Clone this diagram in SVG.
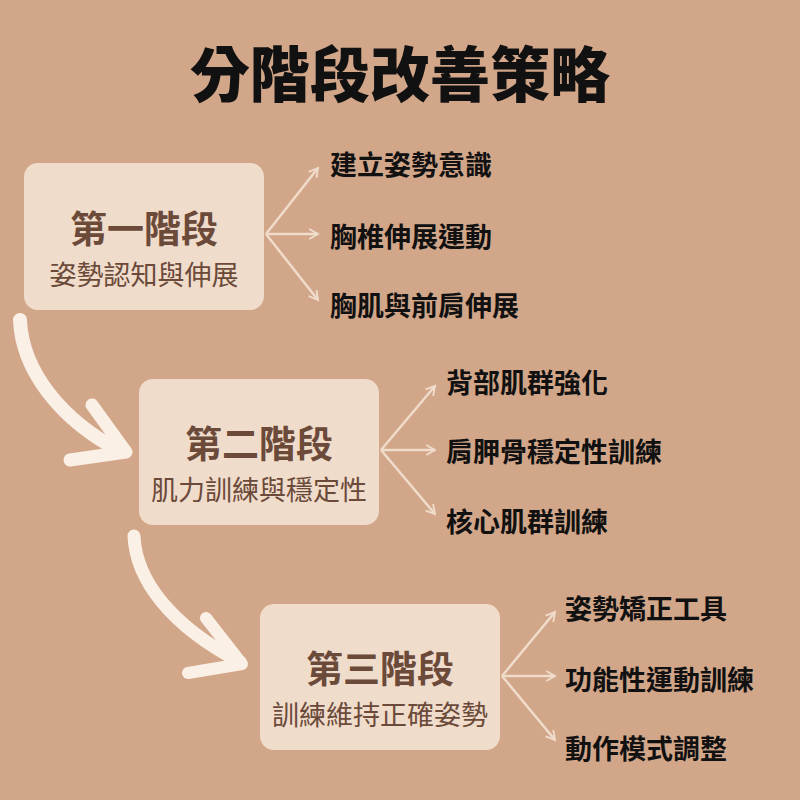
<svg xmlns="http://www.w3.org/2000/svg" width="800" height="800" viewBox="0 0 800 800">
<style>
.box{fill:#F0DCCB}
.st{font-family:"Noto Sans CJK TC","Noto Sans CJK SC",sans-serif;font-weight:700;font-size:37px;fill:#6B4A3A;text-anchor:middle}
.sub{font-family:"Noto Sans CJK TC","Noto Sans CJK SC",sans-serif;font-size:27px;fill:#6B4A3A;text-anchor:middle}
.lb{font-family:"Noto Sans CJK TC","Noto Sans CJK SC",sans-serif;font-weight:700;font-size:27px;fill:#111;dominant-baseline:central}
.con{stroke:#F0DCCB;stroke-width:2.5;fill:none;marker-end:url(#ah)}
.big{stroke:#FAF0E6;fill:none;stroke-linecap:round;stroke-linejoin:round}
</style>
<defs>
<marker id="ah" viewBox="0 0 10 10" refX="8" refY="5" markerWidth="5" markerHeight="5" orient="auto" markerUnits="strokeWidth"><path d="M1,1 L8,5 L1,9" fill="none" stroke="#F0DCCB" stroke-width="1.5"/></marker>
</defs>
<rect width="800" height="800" fill="#D2A689"/>
<text x="400" y="97" font-family="'Noto Sans CJK TC','Noto Sans CJK SC',sans-serif" font-weight="900" font-size="60" fill="#111" text-anchor="middle">分階段改善策略</text>
<g id="stage1"><rect class="box" x="24" y="163" width="240" height="147" rx="14"/><text class="st" x="144" y="243">第一階段</text><text class="sub" x="144" y="285">姿勢認知與伸展</text></g>
<g id="stage2"><rect class="box" x="139" y="379" width="240" height="146" rx="14"/><text class="st" x="259" y="458">第二階段</text><text class="sub" x="259" y="500">肌力訓練與穩定性</text></g>
<g id="stage3"><rect class="box" x="260" y="604" width="240" height="146" rx="14"/><text class="st" x="380" y="683">第三階段</text><text class="sub" x="380" y="725">訓練維持正確姿勢</text></g>
<g id="labels">
<text class="lb" x="330" y="163">建立姿勢意識</text><text class="lb" x="330" y="235">胸椎伸展運動</text><text class="lb" x="330" y="304">胸肌與前肩伸展</text>
<text class="lb" x="446" y="381">背部肌群強化</text><text class="lb" x="446" y="450">肩胛骨穩定性訓練</text><text class="lb" x="446" y="520">核心肌群訓練</text>
<text class="lb" x="565" y="607">姿勢矯正工具</text><text class="lb" x="565" y="678">功能性運動訓練</text><text class="lb" x="565" y="747">動作模式調整</text>
</g>
<g id="connectors">
<path class="con" d="M266,234 L318,168"/><path class="con" d="M266,234 L318,234"/><path class="con" d="M266,234 L318,300"/>
<path class="con" d="M381,450 L435,386"/><path class="con" d="M381,450 L435,450"/><path class="con" d="M381,450 L435,514"/>
<path class="con" d="M502,676 L555,612"/><path class="con" d="M502,676 L555,676"/><path class="con" d="M502,676 L555,740"/>
<path class="big" stroke-width="14" d="M20,320 C22,370 60,420 122,452"/>
<path class="big" stroke-width="13" d="M92,405 L126,452 L70,460"/>
<path class="big" stroke-width="13" d="M134,536 C136,580 170,625 240,662"/>
<path class="big" stroke-width="12" d="M206,618 L242,664 L188,673"/>
</g>
</svg>
